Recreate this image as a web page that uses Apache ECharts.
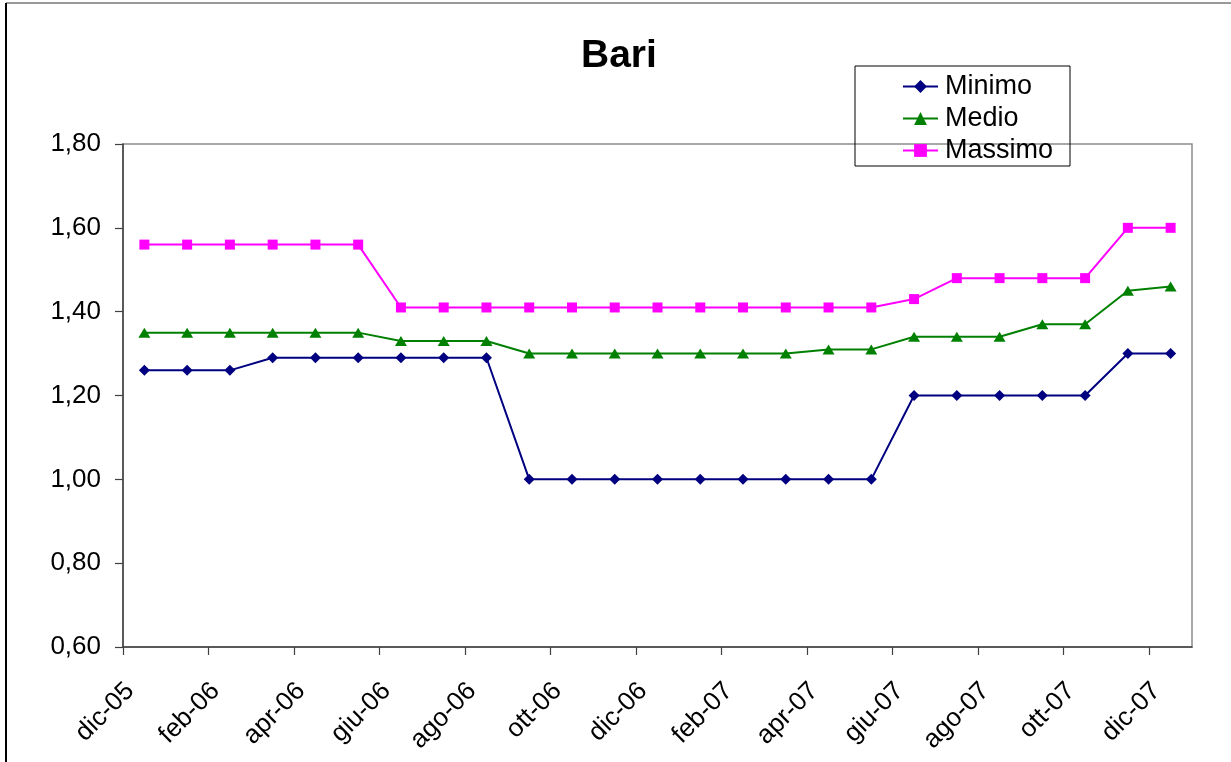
<!DOCTYPE html>
<html>
<head>
<meta charset="utf-8">
<script src="https://cdn.jsdelivr.net/npm/echarts@6/dist/echarts.min.js"></script>
<style>
  html, body { margin: 0; padding: 0; background: #fff; }
  #chart { width: 1231px; height: 762px; }
</style>
</head>
<body>
<div id="chart"></div>
<script>
// mesi (un punto per mese, etichetta ogni 2 mesi)
const months = ['dic-05', 'gen-06', 'feb-06', 'mar-06', 'apr-06', 'mag-06', 'giu-06', 'lug-06',
  'ago-06', 'set-06', 'ott-06', 'nov-06', 'dic-06', 'gen-07', 'feb-07', 'mar-07', 'apr-07',
  'mag-07', 'giu-07', 'lug-07', 'ago-07', 'set-07', 'ott-07', 'nov-07', 'dic-07'];

const minimo = [1.26, 1.26, 1.26, 1.29, 1.29, 1.29, 1.29, 1.29, 1.29, 1.00, 1.00, 1.00, 1.00,
  1.00, 1.00, 1.00, 1.00, 1.00, 1.20, 1.20, 1.20, 1.20, 1.20, 1.30, 1.30];
const medio = [1.35, 1.35, 1.35, 1.35, 1.35, 1.35, 1.33, 1.33, 1.33, 1.30, 1.30, 1.30, 1.30,
  1.30, 1.30, 1.30, 1.31, 1.31, 1.34, 1.34, 1.34, 1.37, 1.37, 1.45, 1.46];
const massimo = [1.56, 1.56, 1.56, 1.56, 1.56, 1.56, 1.41, 1.41, 1.41, 1.41, 1.41, 1.41, 1.41,
  1.41, 1.41, 1.41, 1.41, 1.41, 1.43, 1.48, 1.48, 1.48, 1.48, 1.60, 1.60];

(() => {
  const font = 'Liberation Sans, Arial, sans-serif';

  // punto a metà mese sull'asse dei mesi
  function toPoints(values) {
    return values.map((v, i) => [i + 0.5, v]);
  }

  function makeSeries(name, values, color, symbol, size) {
    return {
      name: name,
      type: 'line',
      data: toPoints(values),
      color: color,
      symbol: symbol,
      symbolSize: size,
      showAllSymbol: true,
      animation: false,
      lineStyle: { width: 2, color: color },
      itemStyle: { color: color }
    };
  }

  const myChart = echarts.init(document.getElementById('chart'));

  const option = {
    backgroundColor: '#fff',
    title: {
      text: 'Bari',
      left: 581,
      top: 37,
      padding: 0,
      textStyle: { fontFamily: font, fontSize: 39, fontWeight: 'bold', color: '#000', lineHeight: 39 }
    },
    legend: {
      data: ['Minimo', 'Medio', 'Massimo'],
      orient: 'vertical',
      left: 855,
      top: 66,
      padding: [7, 17, 2, 47],
      itemGap: 5,
      itemWidth: 35,
      itemHeight: 16,
      borderColor: '#000',
      borderWidth: 1,
      selectedMode: false,
      textStyle: { fontFamily: font, fontSize: 27, color: '#000', lineHeight: 27, padding: [0, 0, 0, 2] }
    },
    grid: {
      left: 123,
      right: 39,
      top: 144,
      bottom: 115,
      show: true,
      borderColor: '#8c8c8c',
      borderWidth: 1.5,
      containLabel: false
    },
    graphic: [
      { type: 'line', shape: { x1: 6, y1: 3, x2: 1231, y2: 3 }, style: { stroke: '#777', lineWidth: 1.5 } },
      { type: 'line', shape: { x1: 6, y1: 3, x2: 6, y2: 762 }, style: { stroke: '#000', lineWidth: 2 } }
    ],
    xAxis: {
      type: 'value',
      min: 0,
      max: months.length,
      interval: 2,
      axisLine: { lineStyle: { color: '#404040', width: 1.5 } },
      axisTick: { show: true, inside: false, length: 8, lineStyle: { color: '#404040', width: 1.2 } },
      splitLine: { show: false },
      axisLabel: {
        rotate: 45,
        margin: 33,
        verticalAlign: 'top',
        lineHeight: 20,
        showMaxLabel: false,
        fontFamily: font,
        fontSize: 26,
        color: '#000',
        formatter: v => months[v] || ''
      }
    },
    yAxis: {
      type: 'value',
      min: 0.6,
      max: 1.8,
      interval: 0.2,
      axisLine: { show: true, lineStyle: { color: '#404040', width: 1.5 } },
      axisTick: { show: true, inside: false, length: 8, lineStyle: { color: '#404040', width: 1.2 } },
      splitLine: { show: false },
      axisLabel: {
        margin: 22,
        fontFamily: font,
        fontSize: 26,
        color: '#000',
        formatter: v => v.toFixed(2).replace('.', ',')
      }
    },
    series: [
      makeSeries('Minimo', minimo, '#000080', 'diamond', 11),
      makeSeries('Medio', medio, '#008000', 'triangle', [12, 10]),
      makeSeries('Massimo', massimo, '#ff00ff', 'rect', 10)
    ]
  };

  myChart.setOption(option);
})();
</script>
</body>
</html>
